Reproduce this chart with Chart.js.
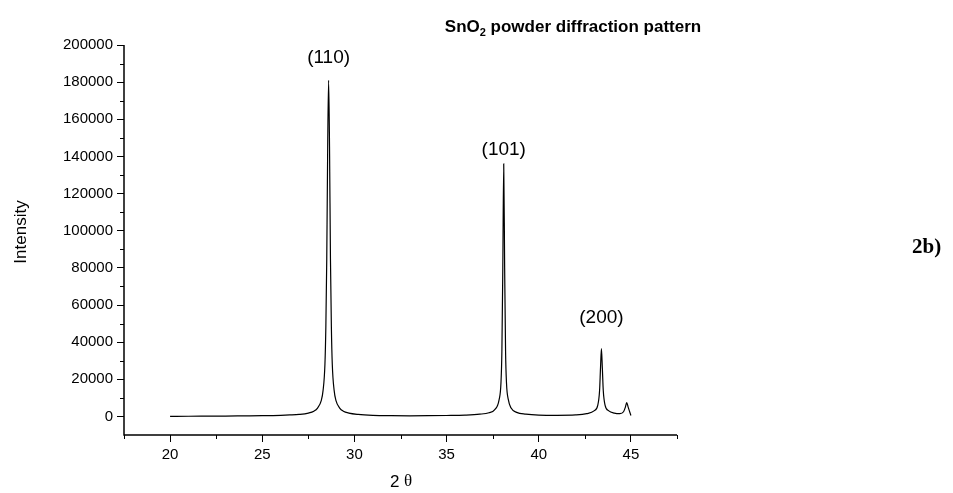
<!DOCTYPE html>
<html>
<head>
<meta charset="utf-8">
<script src="https://cdn.jsdelivr.net/npm/chart.js@4"></script>
<style>
  html, body { margin: 0; padding: 0; background: #fff; }
  #wrap { width: 953px; height: 493px; }
</style>
</head>
<body>
<div id="wrap"><canvas id="xrdChart" width="953" height="493"></canvas></div>
<script>
// 2 theta (deg) and intensity
const twoTheta = [
  20, 21, 22, 23, 24, 25, 26, 26.5, 27, 27.5, 27.8, 28.0, 28.2, 28.3, 28.4, 28.45, 28.5, 28.55,
  28.6, 28.65, 28.7, 28.75, 28.8, 28.9, 29.0, 29.2, 29.4, 29.7, 30.2, 31, 32, 33, 34, 35, 36,
  36.8, 37.3, 37.6, 37.85, 37.95, 38.0, 38.05, 38.1, 38.15, 38.2, 38.25, 38.35, 38.5, 38.8,
  39.3, 40, 41, 42, 42.6, 43.0, 43.2, 43.3, 43.35, 43.4, 43.45, 43.5, 43.6, 43.8, 44.1, 44.4,
  44.6, 44.7, 44.77, 44.85, 44.95, 45.0
];
const intensity = [
  0, 100, 150, 200, 300, 400, 600, 800, 1100, 1800, 2800, 4500, 8500, 14000, 28000, 48000, 85000, 145000,
  181000, 145000, 85000, 48000, 28000, 14000, 8500, 4500, 2800, 1800, 1100, 600, 400, 350, 400, 500, 700,
  1200, 2000, 3500, 9000, 18000, 35000, 80000, 136000, 80000, 35000, 18000, 9000, 4500, 2200,
  1200, 700, 600, 800, 1500, 3000, 6000, 14000, 26000, 36500, 26000, 14000, 6000, 3000, 1800, 1500,
  2500, 5000, 7500, 5000, 2000, 500
];

// peak labels: hkl, position, label height
const hklLabels = ['(110)', '(101)', '(200)'];
const hklX = [28.6, 38.1, 43.4];
const hklY = [193000, 143500, 53000];

const xTicks = [20, 25, 30, 35, 40, 45];
const yTicks = [0, 20000, 40000, 60000, 80000, 100000, 120000, 140000, 160000, 180000, 200000];
const xTickMinor = [17.5, 22.5, 27.5, 32.5, 37.5, 42.5, 47.5];
const yTickMinor = [10000, 30000, 50000, 70000, 90000, 110000, 130000, 150000, 170000, 190000];

const points = twoTheta.map((x, i) => ({ x: x, y: intensity[i] }));

const extras = {
  id: 'extras',
  afterDraw(chart) {
    const c = chart.ctx;
    const xs = chart.scales.x, ys = chart.scales.y;
    const area = chart.chartArea;
    c.save();
    c.strokeStyle = '#000';
    c.lineWidth = 1.5;
    // axis lines
    c.beginPath();
    c.moveTo(area.left, area.top);
    c.lineTo(area.left, area.bottom);
    c.lineTo(area.right, area.bottom);
    c.stroke();
    // minor ticks
    c.lineWidth = 1;
    c.beginPath();
    xTickMinor.forEach(v => {
      const px = Math.round(xs.getPixelForValue(v)) + 0.5;
      c.moveTo(px, area.bottom);
      c.lineTo(px, area.bottom + 4);
    });
    yTickMinor.forEach(v => {
      const py = Math.round(ys.getPixelForValue(v)) + 0.5;
      c.moveTo(area.left, py);
      c.lineTo(area.left - 4, py);
    });
    c.stroke();

    c.fillStyle = '#000';
    c.textAlign = 'center';
    c.textBaseline = 'middle';
    // peak labels
    c.font = '19px "Liberation Sans", Arial, sans-serif';
    hklLabels.forEach((t, i) => {
      c.fillText(t, xs.getPixelForValue(hklX[i]), ys.getPixelForValue(hklY[i]));
    });

    // title with subscript
    const big = 'bold 17px "Liberation Sans", Arial, sans-serif';
    const small = 'bold 11px "Liberation Sans", Arial, sans-serif';
    c.textAlign = 'left';
    const p1 = 'SnO', p2 = '2', p3 = ' powder diffraction pattern';
    c.font = big;
    const w1 = c.measureText(p1).width, w3 = c.measureText(p3).width;
    c.font = small;
    const w2 = c.measureText(p2).width;
    let tx = 573 - (w1 + w2 + w3) / 2;
    const ty = 27;
    c.font = big;
    c.fillText(p1, tx, ty);
    c.font = small;
    c.fillText(p2, tx + w1, ty + 6);
    c.font = big;
    c.fillText(p3, tx + w1 + w2, ty);

    // axis titles
    c.textAlign = 'center';
    c.font = '17px "Liberation Sans", Arial, sans-serif';
    c.save();
    c.translate(21, 232);
    c.rotate(-Math.PI / 2);
    c.fillText('Intensity', 0, 0);
    c.restore();
    c.textAlign = 'left';
    c.fillText('2', 390, 482);
    c.font = '17px "Liberation Serif", "Times New Roman", serif';
    c.fillText('\u03b8', 404, 482);

    // panel tag
    c.font = 'bold 21px "Liberation Serif", "Times New Roman", serif';
    c.textAlign = 'left';
    c.fillText('2b)', 912, 248);
    c.restore();
  }
};

const ctx = document.getElementById('xrdChart').getContext('2d');
const chart = new Chart(ctx, {
  type: 'line',
  data: {
    datasets: [{
      label: 'SnO2',
      data: points,
      borderColor: '#000',
      borderWidth: 1.2,
      pointRadius: 0,
      fill: false,
      cubicInterpolationMode: 'monotone'
    }]
  },
  options: {
    responsive: false,
    animation: false,
    layout: { padding: { top: 45, right: 276, left: 0, bottom: 0 } },
    plugins: { legend: { display: false }, tooltip: { enabled: false } },
    scales: {
      x: {
        type: 'linear',
        min: 17.5,
        max: 47.5,
        border: { display: false },
        grid: { drawOnChartArea: false, drawTicks: true, tickLength: 7, color: '#000', lineWidth: 1 },
        ticks: {
          color: '#000',
          padding: 4,
          font: { family: '"Liberation Sans", Arial, sans-serif', size: 15 },
          callback: v => String(v)
        },
        afterBuildTicks(scale) { scale.ticks = xTicks.map(v => ({ value: v })); },
        afterFit(scale) { scale.height = 58; }
      },
      y: {
        min: -10000,
        max: 200000,
        border: { display: false },
        grid: { drawOnChartArea: false, drawTicks: true, tickLength: 7, color: '#000', lineWidth: 1 },
        ticks: {
          color: '#000',
          padding: 4,
          font: { family: '"Liberation Sans", Arial, sans-serif', size: 15 },
          callback: v => String(v)
        },
        afterBuildTicks(scale) { scale.ticks = yTicks.map(v => ({ value: v })); },
        afterFit(scale) { scale.width = 124; }
      }
    }
  },
  plugins: [extras]
});
</script>
</body>
</html>
